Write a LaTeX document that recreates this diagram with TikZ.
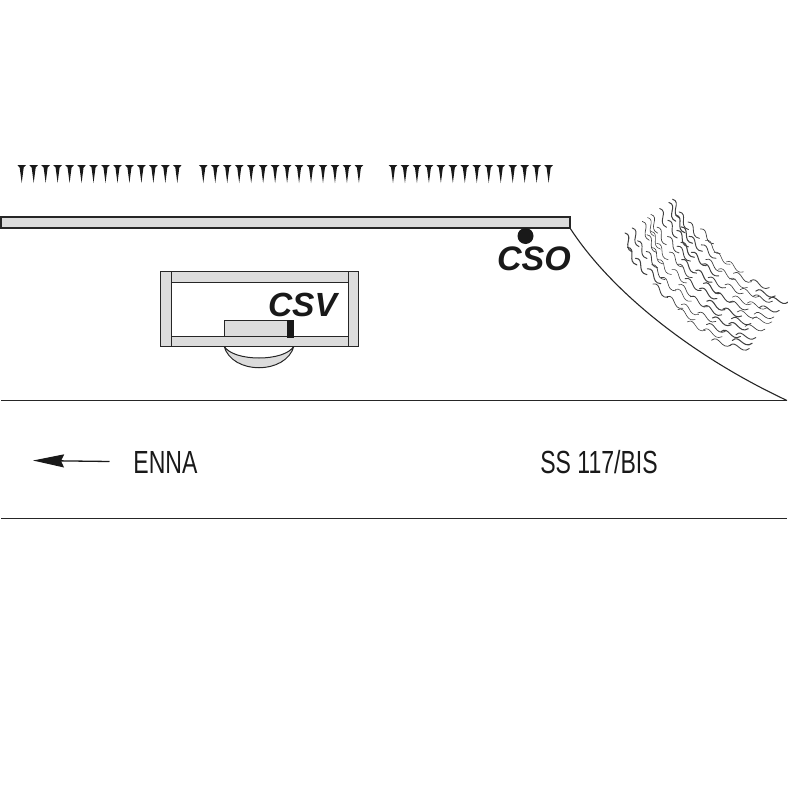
\documentclass[tikz,border=0pt]{standalone}
\usepackage{fontspec}
\setmainfont{Liberation Sans}
\newfontfamily\narrowfont[FakeStretch=0.72]{Liberation Sans}
\usetikzlibrary{arrows.meta}

\definecolor{wallgrey}{HTML}{DCDCDC}
\tikzset{
  wall/.style={draw=black!85,fill=wallgrey,line width=1.2pt},
  road/.style={draw=black!85,line width=1pt},
  sitelabel/.style={font=\fontsize{34}{34}\selectfont\bfseries\itshape,text=black!90,inner sep=0pt},
  roadlabel/.style={font=\fontsize{32}{32}\selectfont\narrowfont,text=black!90,inner sep=0pt},
  wave/.style={draw=black!75,line width=0.7pt,line cap=round},
  pics/tooth/.style={code={
    \fill[black!90] (-4.4,0) -- (4.4,0) -- (2,2.5) -- (0,18) -- (-2,2.5) -- cycle;
  }}
}

\begin{document}
\begin{tikzpicture}[x=1pt,y=-1pt]
  \useasboundingbox (0,0) rectangle (788,787);

  % hedge
  \foreach \start in {21.7,203.3,393}
    \foreach \i in {0,...,13}
      \pic at ({\start+\i*11.97},165) {tooth};

  % wall
  \draw[wall] (1,217) rectangle (570,228);
  \coordinate (wallend) at (570,228);
  \node[circle,fill=black!90,minimum size=16pt,inner sep=0pt] (csodot) at (525.5,236) {};
  \node[sitelabel] (cso) at (534,258.5) {CSO};

  % building
  \draw[wall,line width=1pt] (224,346) .. controls (232,375) and (286,375) .. (294,346)
     .. controls (285,362) and (233,362) .. cycle;
  \draw[wall,line width=1pt] (224.5,320) rectangle (288,336);
  \draw[wall,line width=1pt] (171,271.5) rectangle (348,282);
  \draw[wall,line width=1pt] (171,336) rectangle (348,346.5);
  \draw[wall,line width=1pt] (160,271.5) rectangle (171,346.5);
  \draw[wall,line width=1pt] (348,271.5) rectangle (358.5,346.5);
  \fill[black!90] (287,320) rectangle (294,337.5);
  \node[sitelabel,font=\fontsize{33.5}{33.5}\selectfont\bfseries\itshape] (csv) at (302.5,304.5) {CSV};

  % road
  \coordinate (roadA) at (1,400.5);
  \coordinate (roadB) at (787,400.5);
  \coordinate (roadC) at (1,518.5);
  \coordinate (roadD) at (787,518.5);
  \draw[road] (roadA) -- (roadB);
  \draw[road] (roadC) -- (roadD);
  \draw[road,line width=1.1pt] (wallend) .. controls (610,290) and (690,355) .. (roadB);

  \node[roadlabel] (enna) at (165.5,462) {ENNA};
  \node[roadlabel] (ssbis) at (599,462) {SS 117/BIS};
  \coordinate (arrowstart) at (109.5,461.5);
  \coordinate (arrowend) at (33,460.5);
  \draw[-{Stealth[length=31pt,width=13pt,inset=3pt]},black!90,line width=1.3pt] (arrowstart) -- (arrowend);

  % slope vegetation
  \foreach \lx/\ly/\rx/\ry/\tilt in {627/232/673/199/-70,630/246/681/211/-62,636/258/690/221/-55,645/270/698/230/-48,655/283/706/240/-42,666/297/715/252/-36,677/310/724/263/-30,689/321/736/272/-25,701/331/748/282/-20,714/339/758/290/-14,727/347/767/300/-8}
    \foreach \k in {0,...,7} {
      \pgfmathsetmacro{\wob}{2.5*sin(\k*97+\lx*13)}
      \pgfmathsetmacro{\px}{\lx+(\rx-\lx)*\k/7+\wob}
      \pgfmathsetmacro{\py}{\ly+(\ry-\ly)*\k/7-\wob/2}
      \pgfmathsetmacro{\lw}{0.55+0.25*(1+sin(\k*61+\lx*3))}
      \draw[wave,line width=\lw pt,shift={(\px,\py)},rotate=\tilt] (0,0) .. controls (6,-8) and (12,8) .. (20,0);
    }
\end{tikzpicture}
\end{document}
